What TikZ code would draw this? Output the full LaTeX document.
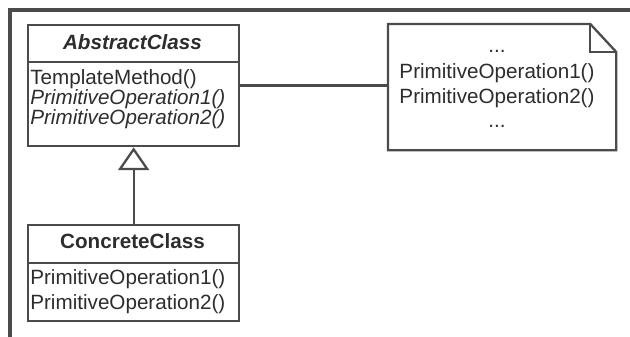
\documentclass[tikz,border=0pt]{standalone}
\usepackage{fontspec}
\setmainfont{Liberation Sans}
\usetikzlibrary{arrows.meta,positioning,calc}

\definecolor{umlline}{RGB}{75,75,75}
\definecolor{umltext}{RGB}{45,45,45}

\begin{document}
\begin{tikzpicture}[x=0.02cm, y=-0.02cm]

\def\pxl{0.02cm}
\def\fsz{\fontsize{11.75}{14}\selectfont}

\tikzset{
  box/.style={draw=umlline, line width=1.3pt, inner sep=0pt, anchor=north west,
    minimum width=211*\pxl},
  txt/.style={font=\fsz, text=umltext, inner sep=0pt, anchor=base west},
  ttl/.style={font=\fsz\bfseries, text=umltext, inner sep=0pt, anchor=base},
  line/.style={draw=umlline, line width=1.3pt},
}

\useasboundingbox (0,0) rectangle (630,337);

% frame
\draw[umlline, line width=2pt] (10,337) -- (10,10) -- (630,10);

% abstract class
\node[box, minimum height=121*\pxl] (abstract) at (27,24) {};
\draw[line] (abstract.west |- 0,62) -- (abstract.east |- 0,62);
\node[ttl, font=\fsz\bfseries\itshape] (abstitle) at (132.5,50) {AbstractClass};
\node[txt] (tmeth) at (30,85) {TemplateMethod()};
\node[txt, font=\fsz\itshape] (absop1) at (30,105) {PrimitiveOperation1()};
\node[txt, font=\fsz\itshape] (absop2) at (30,125) {PrimitiveOperation2()};

% concrete class
\node[box, minimum height=96*\pxl] (concrete) at (27,224) {};
\draw[line] (concrete.west |- 0,263) -- (concrete.east |- 0,263);
\node[ttl] (contitle) at (132.5,249) {ConcreteClass};
\node[txt] (conop1) at (30,285) {PrimitiveOperation1()};
\node[txt] (conop2) at (30,310) {PrimitiveOperation2()};

% note
\node[box, draw=none, minimum width=226*\pxl, minimum height=124*\pxl] (note) at (388,24) {};
\draw[line, line join=miter] (note.north west) -- ($(note.north east)+(-26,0)$)
  -- ($(note.north east)+(0,28)$) -- (note.south east) -- (note.south west) -- cycle;
\draw[line] ($(note.north east)+(-26,0)$) |- ($(note.north east)+(0,28)$);
\node[txt, anchor=base] (ndots1) at (497,53) {...};
\node[txt, anchor=base] (nop1) at (497,79) {PrimitiveOperation1()};
\node[txt, anchor=base] (nop2) at (497,104) {PrimitiveOperation2()};
\node[txt, anchor=base] (ndots2) at (497,128) {...};

% connectors
\draw[line] (abstract) -- (abstract -| note.west);
\draw[line, -{Triangle[open, length=13pt, width=17.6pt]}] (concrete) -- (abstract);

\end{tikzpicture}
\end{document}
